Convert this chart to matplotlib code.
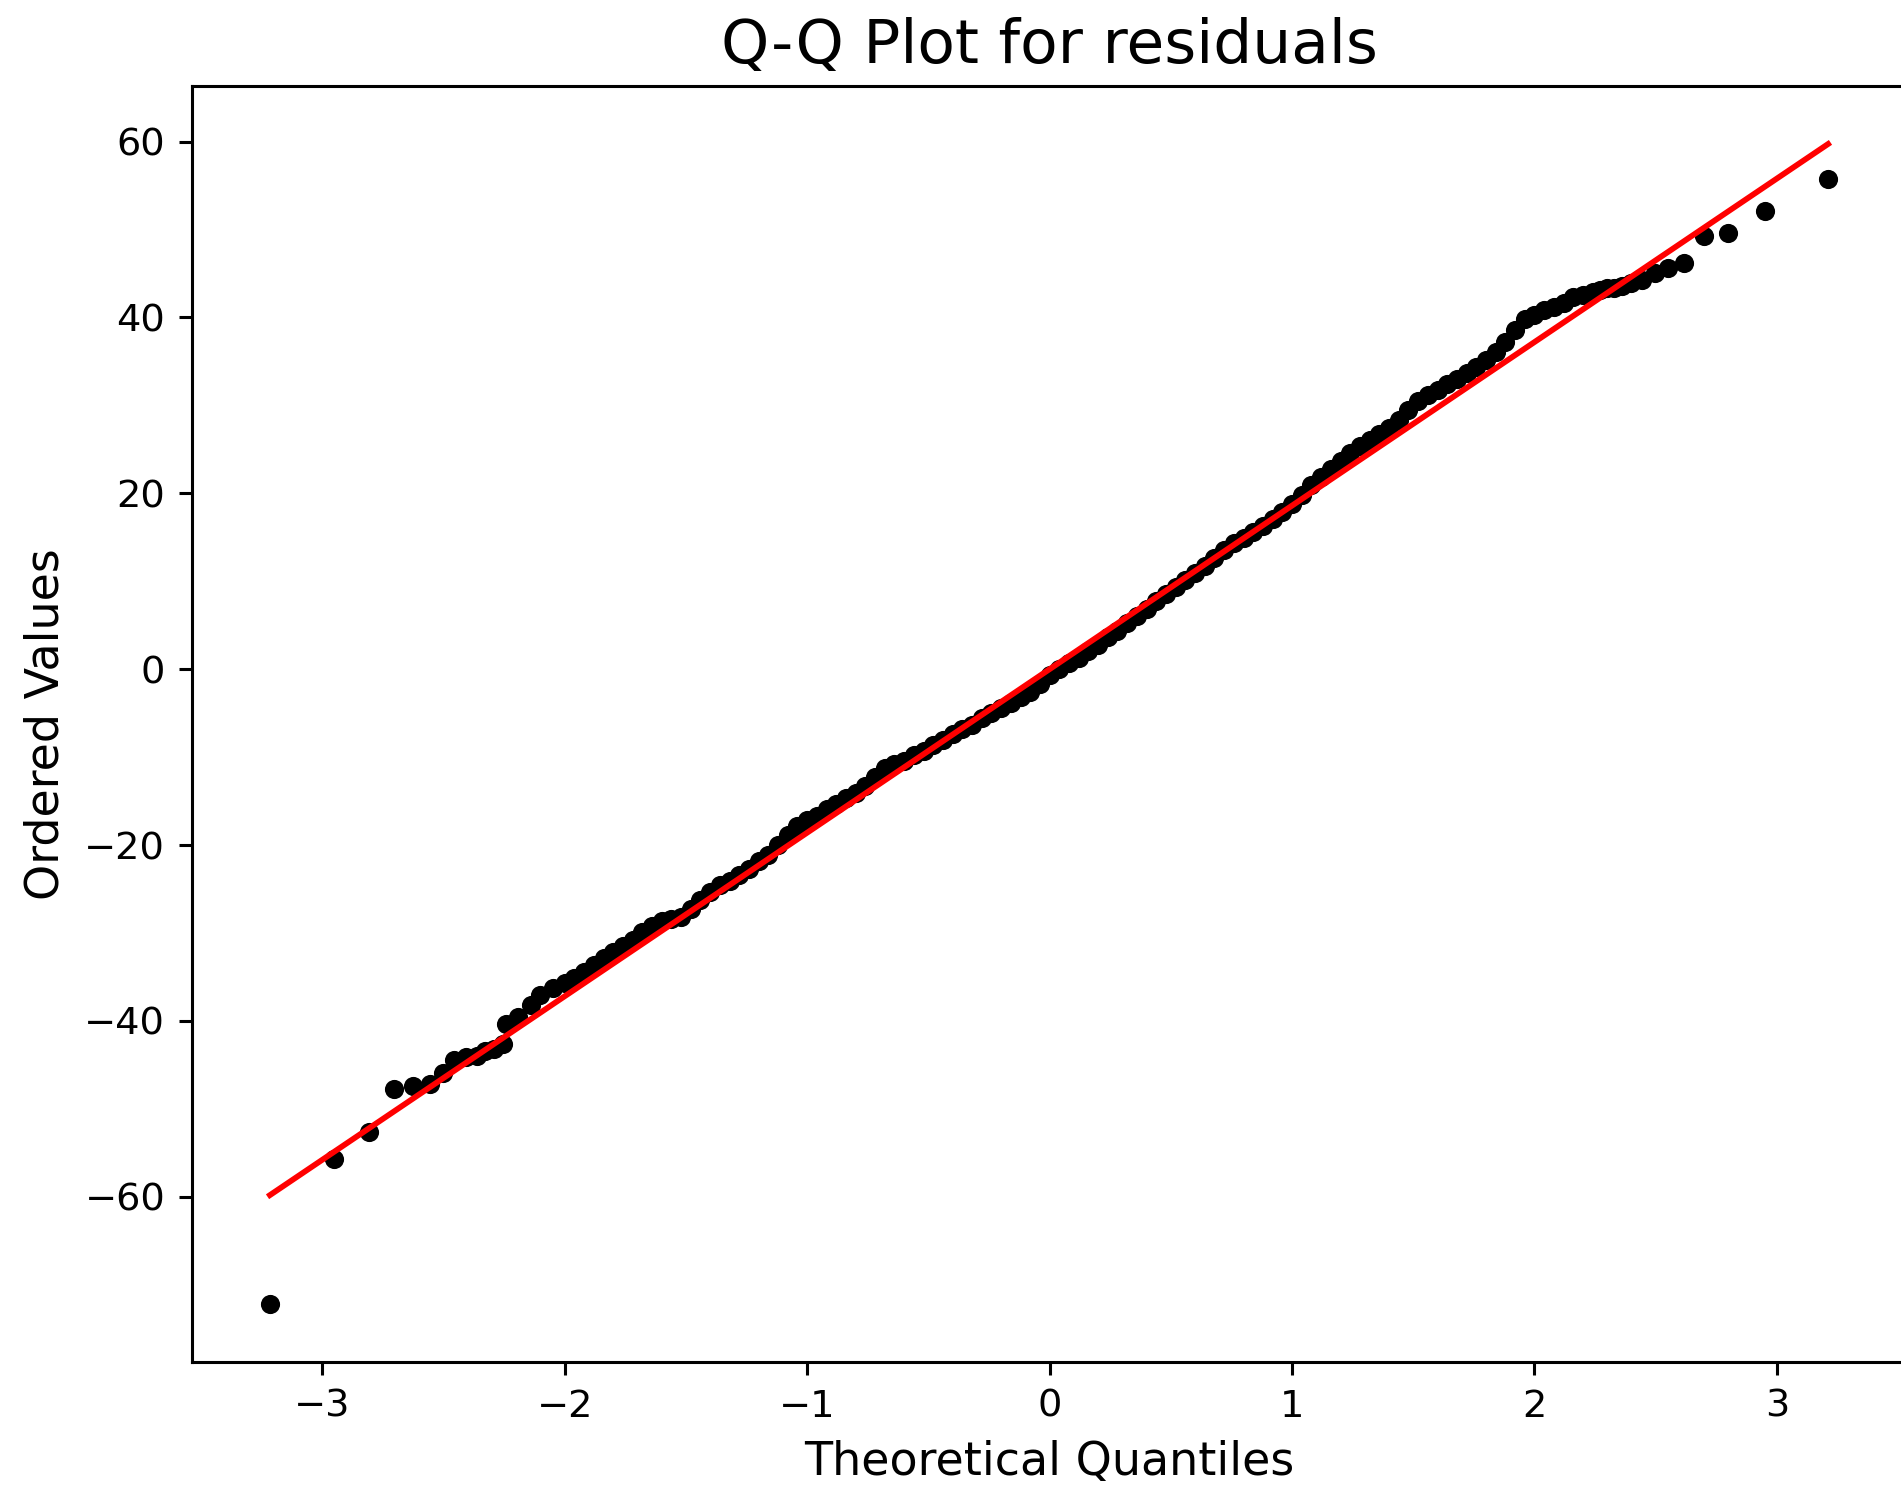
import numpy as np
import matplotlib
matplotlib.use("Agg")
import matplotlib.pyplot as plt

# values
# lower tail (single visible points)
left_q = [-3.216, -2.95, -2.806, -2.705, -2.627, -2.554, -2.50, -2.455, -2.406,
          -2.362, -2.33, -2.29, -2.255, -2.241, -2.193, -2.138, -2.103, -2.05]
left_v = [-72.2, -55.7, -52.6, -47.7, -47.4, -47.2, -45.9, -44.5, -44.1,
          -44.0, -43.4, -43.2, -42.6, -40.4, -39.6, -38.2, -37.1, -36.3]

# dense middle band
mid_q = [-2.00, -1.96, -1.92, -1.88, -1.84, -1.80, -1.76, -1.72, -1.68, -1.64,
         -1.60, -1.56, -1.52, -1.48, -1.44, -1.40, -1.36, -1.32, -1.28, -1.24,
         -1.20, -1.16, -1.12, -1.08, -1.04, -1.00, -0.96, -0.92, -0.88, -0.84,
         -0.80, -0.76, -0.72, -0.68, -0.64, -0.60, -0.56, -0.52, -0.48, -0.44,
         -0.40, -0.36, -0.32, -0.28, -0.24, -0.20, -0.16, -0.12, -0.08, -0.04,
         0.00, 0.04, 0.08, 0.12, 0.16, 0.20, 0.24, 0.28, 0.32, 0.36,
         0.40, 0.44, 0.48, 0.52, 0.56, 0.60, 0.64, 0.68, 0.72, 0.76,
         0.80, 0.84, 0.88, 0.92, 0.96, 1.00, 1.04, 1.08, 1.12, 1.16,
         1.20, 1.24, 1.28, 1.32, 1.36, 1.40, 1.44, 1.48, 1.52, 1.56,
         1.60, 1.64, 1.68, 1.72, 1.76, 1.80, 1.84, 1.88, 1.92, 1.96,
         2.00, 2.04, 2.08, 2.12, 2.16, 2.20]
mid_v = [-35.7, -35.1, -34.4, -33.6, -32.8, -32.2, -31.5, -30.8, -29.9, -29.2,
         -28.6, -28.4, -28.2, -27.3, -26.3, -25.3, -24.6, -24.1, -23.4, -22.7,
         -21.8, -21.1, -20.0, -18.9, -17.8, -17.2, -16.7, -15.9, -15.3, -14.6,
         -14.1, -13.3, -12.3, -11.2, -10.8, -10.4, -9.8, -9.3, -8.6, -8.1,
         -7.4, -6.8, -6.3, -5.6, -5.0, -4.4, -3.9, -3.2, -2.6, -1.7,
         -0.7, 0.0, 0.7, 1.3, 2.1, 2.8, 3.6, 4.3, 5.2, 6.0,
         6.8, 7.7, 8.5, 9.3, 10.1, 10.9, 11.7, 12.6, 13.5, 14.3,
         14.9, 15.6, 16.3, 17.1, 17.9, 18.8, 19.8, 20.9, 21.8, 22.8,
         23.7, 24.6, 25.4, 26.1, 26.7, 27.4, 28.3, 29.5, 30.5, 31.2,
         31.8, 32.4, 33.0, 33.7, 34.4, 35.2, 36.1, 37.2, 38.6, 39.8,
         40.3, 40.8, 41.2, 41.6, 42.3, 42.5]

# upper tail
right_q = [2.24, 2.27, 2.30, 2.33, 2.36, 2.40, 2.442, 2.497, 2.552, 2.618,
           2.70, 2.80, 2.949, 3.211]
right_v = [42.9, 43.1, 43.3, 43.4, 43.6, 43.9, 44.3, 45.0, 45.6, 46.2,
           49.3, 49.6, 52.1, 55.7]

# fitted reference line
slope = 18.6
intercept = 0.0

osm = np.array(left_q + mid_q + right_q)
osr = np.array(left_v + mid_v + right_v)

dpi = 276
fig = plt.figure(figsize=(1901 / dpi, 1488 / dpi), dpi=dpi)
ax = fig.add_axes([192 / 1901, 1 - 1362 / 1488, 1714 / 1901, 1276 / 1488])

ax.plot(osm, osr, "o", color="black", ms=5, mew=0)
ends = np.array([osm.min(), osm.max()])
ax.plot(ends, slope * ends + intercept, "r-", lw=1.5)

ax.set_title("Q-Q Plot for residuals", fontsize=16)
ax.set_xlabel("Theoretical Quantiles", fontsize=12)
ax.set_ylabel("Ordered Values", fontsize=12)
ax.tick_params(labelsize=10)

fig.savefig("out.png", dpi=dpi)
